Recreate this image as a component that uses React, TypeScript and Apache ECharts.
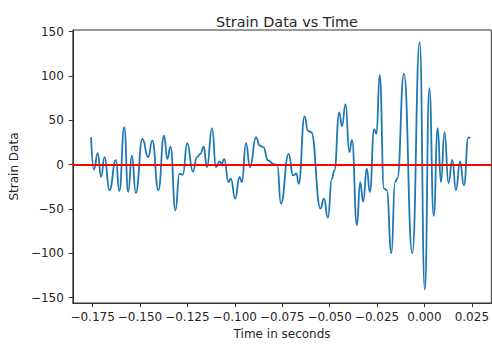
import React, { useEffect, useRef } from "react";
import * as echarts from "echarts";

const times = [
  -0.1758, -0.1743, -0.1723, -0.1705, -0.1687, -0.1661, -0.1627, -0.1609, -0.1583, -0.1562,
  -0.1543, -0.1522, -0.1487, -0.1457, -0.1435, -0.1403, -0.1373, -0.1356, -0.1339, -0.1313,
  -0.1292, -0.1274, -0.1251, -0.1221, -0.1199, -0.1182, -0.1164, -0.1147, -0.112, -0.1099,
  -0.108, -0.1068, -0.1056, -0.1033, -0.1021, -0.0998, -0.0975, -0.0963, -0.0941, -0.092,
  -0.0888, -0.0868, -0.085, -0.0824, -0.0797, -0.0776, -0.0757, -0.0716, -0.0693, -0.0675,
  -0.0663, -0.0632, -0.0614, -0.0597, -0.0548, -0.053, -0.0509, -0.0488, -0.0475, -0.0449,
  -0.0435, -0.0416, -0.0396, -0.0382, -0.0356, -0.0339, -0.0323, -0.0304, -0.0288, -0.0265,
  -0.0253, -0.0236, -0.0213, -0.0199, -0.0174, -0.0155, -0.0143, -0.0108, -0.0064, -0.0025,
  0.0002, 0.0026, 0.0049, 0.007, 0.0087, 0.0106, 0.0127, 0.0147, 0.0166, 0.0188,
  0.0208, 0.0232, 0.0242,
];

const strain = [
  30.7, -6, 12.8, -14, 8.3, -29, 5, -30, 42, -31,
  10, -32, 28.8, 8.3, 27, -29, 32.5, 6.4, 20, -51.6,
  -10.4, -11.6, 24, -7.9, 8.3, 12, 20, -3, 40.8, -3,
  3.4, 0.8, 6.4, -19.8, -16, -38.5, -14, -19.8, 24, -3,
  30.7, 21.3, 19.5, 4.5, 0.8, -1, -44, 12, -12.3, -10.4,
  -21.7, 54.3, 38, 36.4, -49.7, -38.5, -60, -16, -6.7, 58.8,
  43, 68, 14, 27.7, -68.5, -19.8, -42, -4.8, -31, 40,
  34.5, 101, -27.3, -29, -100, -19.8, -16, 102.6, -100, 138,
  -141, 86, -58, 41, -19.8, 36.4, -21, 5.3, -29, 3.4,
  -23.6, 30.7, 30,
];

const xTicks = [-0.175, -0.15, -0.125, -0.1, -0.075, -0.05, -0.025, 0, 0.025];
const yTicks = [-150, -100, -50, 0, 50, 100, 150];

const FONT = "DejaVu Sans";
const TEXT = "#262626";
const minus = (s: string) => s.replace("-", "\u2212");

export default function App() {
  const ref = useRef<HTMLDivElement>(null);
  useEffect(() => {
    if (!ref.current) return;
    const chart = echarts.init(ref.current, null, { renderer: "svg" });
    chart.setOption({
      animation: false,
      backgroundColor: "#ffffff",
      title: {
        text: "Strain Data vs Time",
        left: 282,
        textAlign: "center",
        top: 10,
        textStyle: { fontFamily: FONT, fontSize: 14.4, fontWeight: "normal", color: TEXT },
      },
      grid: {
        left: 72.5,
        right: -2,
        top: 30,
        bottom: 40.5,
        show: true,
        borderColor: "#333",
        borderWidth: 1,
        backgroundColor: "transparent",
      },
      xAxis: {
        type: "value",
        min: -0.1854,
        max: 0.03528,
        name: "Time in seconds",
        nameLocation: "middle",
        nameGap: 25,
        nameTextStyle: { fontFamily: FONT, fontSize: 12, color: TEXT, verticalAlign: "top" },
        splitLine: { show: false },
        axisLine: { show: true, onZero: false, lineStyle: { color: "#333", width: 1 } },
        axisTick: { show: true, length: 4.2, lineStyle: { color: "#333", width: 1 }, customValues: xTicks },
        axisLabel: {
          customValues: xTicks,
          margin: 8,
          fontFamily: FONT,
          fontSize: 12,
          color: TEXT,
          formatter: (v: number) => minus(Number(v).toFixed(3)),
        },
      },
      yAxis: {
        type: "value",
        min: -156.2,
        max: 151.7,
        name: "Strain Data",
        nameLocation: "middle",
        nameRotate: 90,
        nameGap: 51,
        nameTextStyle: { fontFamily: FONT, fontSize: 12, color: TEXT },
        splitLine: { show: false },
        axisLine: { show: true, onZero: false, lineStyle: { color: "#333", width: 1 } },
        axisTick: { show: true, length: 4.2, lineStyle: { color: "#333", width: 1 }, customValues: yTicks },
        axisLabel: {
          customValues: yTicks,
          margin: 9,
          fontFamily: FONT,
          fontSize: 12,
          color: TEXT,
          formatter: (v: number) => minus(String(Math.round(v))),
        },
      },
      series: [
        {
          type: "line",
          data: times.map((t, i) => [t, strain[i]]),
          showSymbol: false,
          smooth: 0.5,
          smoothMonotone: "x",
          lineStyle: { color: "#1f77b4", width: 1.8 },
          itemStyle: { color: "#1f77b4" },
          markLine: {
            silent: true,
            symbol: "none",
            label: { show: false },
            lineStyle: { color: "#ff0000", width: 2.2, type: "solid" },
            data: [{ yAxis: 0 }],
            z: 5,
          },
        },
      ],
    });
    return () => chart.dispose();
  }, []);
  return (
    <div
      ref={ref}
      style={{ position: "absolute", left: 0, top: 0, width: 492, height: 345 }}
    />
  );
}
